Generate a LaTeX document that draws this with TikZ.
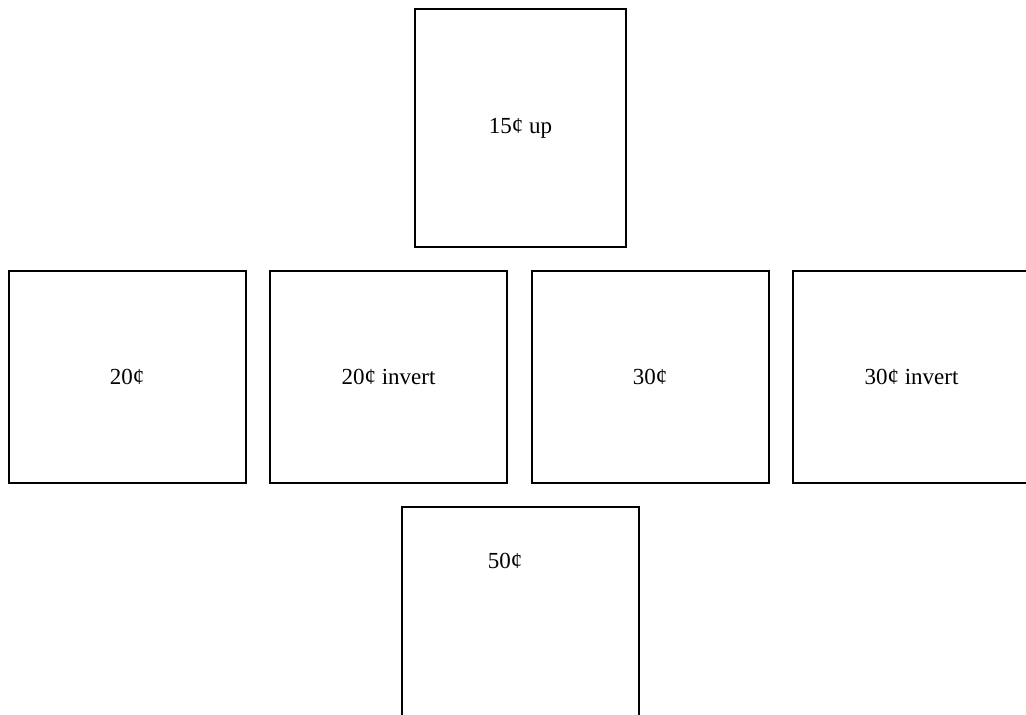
\documentclass[tikz,border=0pt]{standalone}
\usepackage{fontspec}
\setmainfont{Liberation Serif}
\usetikzlibrary{positioning}

\begin{document}
\begin{tikzpicture}[
    x=1pt, y=-1pt,
    node distance=22.5pt,
    box/.style={draw, line width=2pt, minimum width=237pt, minimum height=212pt, inner sep=0pt},
    lbl/.style={font=\fontsize{23}{27}\selectfont}
]
\useasboundingbox (0,0) rectangle (1026,715);

% Top stamp
\node[box, lbl, minimum width=211pt, minimum height=238pt, anchor=north west] (up15) at (414,8) {15¢ up};

% Middle row
\node[box, lbl, anchor=north west] (c20) at (7.5,270) {20¢};
\node[box, lbl, right=of c20] (c20inv) {20¢ invert};
\node[box, lbl, right=of c20inv] (c30) {30¢};
\node[box, lbl, right=of c30] (c30inv) {30¢ invert};

% Bottom stamp (runs off the page)
\node[box, minimum height=238pt, anchor=north west] (c50) at (401,506) {};
\node[lbl] (c50lbl) at (505,561) {50¢};

\end{tikzpicture}
\end{document}
